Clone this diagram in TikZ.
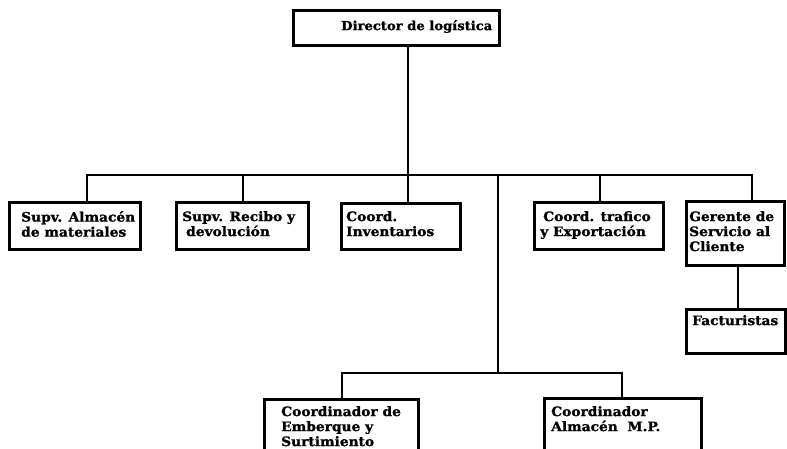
\documentclass[tikz,border=0pt]{standalone}
\usepackage{fontspec}
\newfontfamily\orgfont{DejaVu Serif Bold}[FakeBold=1.2, FakeStretch=1.06]
\begin{document}
\begin{tikzpicture}[x=1pt,y=-1pt,
  orgbox/.style={draw, line width=2.8pt, rectangle, inner sep=0pt, anchor=north west},
  boxlabel/.style={anchor=north west, inner sep=0pt, align=left,
    font=\orgfont\fontsize{13}{15}\selectfont},
  link/.style={line width=2.3pt, line cap=rect}]
\useasboundingbox (0,0) rectangle (787,449);
\clip (0,0) rectangle (787,449);

% boxes
\node[orgbox, minimum width=206pt, minimum height=35pt] (dir) at (292,9) {};
\node[orgbox, minimum width=131pt, minimum height=47pt] (b1) at (8,201) {};
\node[orgbox, minimum width=132pt, minimum height=47pt] (b2) at (175,201) {};
\node[orgbox, minimum width=119pt, minimum height=46pt] (b3) at (340,202) {};
\node[orgbox, minimum width=129pt, minimum height=47pt] (b4) at (533,201) {};
\node[orgbox, minimum width=98pt, minimum height=64pt] (b5) at (685,200) {};
\node[orgbox, minimum width=99pt, minimum height=44pt] (fact) at (685,308) {};
\node[orgbox, minimum width=154pt, minimum height=80pt] (b6) at (263,398) {};
\node[orgbox, minimum width=157pt, minimum height=80pt] (b7) at (543,397) {};

% labels
\node[boxlabel, font=\orgfont\fontsize{12.4}{15}\selectfont] (tdir) at (341,20) {Director de logística};
\node[boxlabel] (t1) at (21,211) {Supv. Almacén\\de materiales};
\node[boxlabel] (t2) at (182,211) {Supv. Recibo y\\\hspace{4pt}devolución};
\node[boxlabel] (t3) at (346,211) {Coord.\\Inventarios};
\node[boxlabel] (t4) at (540,211) {\hspace{3pt}Coord. trafico\\y Exportación};
\node[boxlabel] (t5) at (689,211) {Gerente de\\Servicio al\\Cliente};
\node[boxlabel] (tf) at (692,315) {Facturistas};
\node[boxlabel] (t6) at (281,406) {Coordinador de\\Emberque y\\Surtimiento};
\node[boxlabel] (t7) at (551,406) {Coordinador\\Almacén\ \ M.P.};

% junction points on the buses
\coordinate (j1) at (87,175);
\coordinate (j2) at (243,175);
\coordinate (j3) at (408,175);
\coordinate (jc) at (498,175);
\coordinate (j4) at (600,175);
\coordinate (j5) at (752,175);
\coordinate (kc) at (498,373);
\coordinate (k6) at (342,373);
\coordinate (k7) at (622,373);
\coordinate (fx) at (738,286);

% connectors
\draw[link] (j1) -- (j5);
\draw[link] (dir.south -| j3) -- (b3.north -| j3);
\draw[link] (j1) -- (b1.north -| j1);
\draw[link] (j2) -- (b2.north -| j2);
\draw[link] (j4) -- (b4.north -| j4);
\draw[link] (j5) -- (b5.north -| j5);
\draw[link] (jc) -- (kc);
\draw[link] (k6) -- (k7);
\draw[link] (k6) -- (b6.north -| k6);
\draw[link] (k7) -- (b7.north -| k7);
\draw[link] (b5.south -| fx) -- (fact.north -| fx);
\end{tikzpicture}
\end{document}
